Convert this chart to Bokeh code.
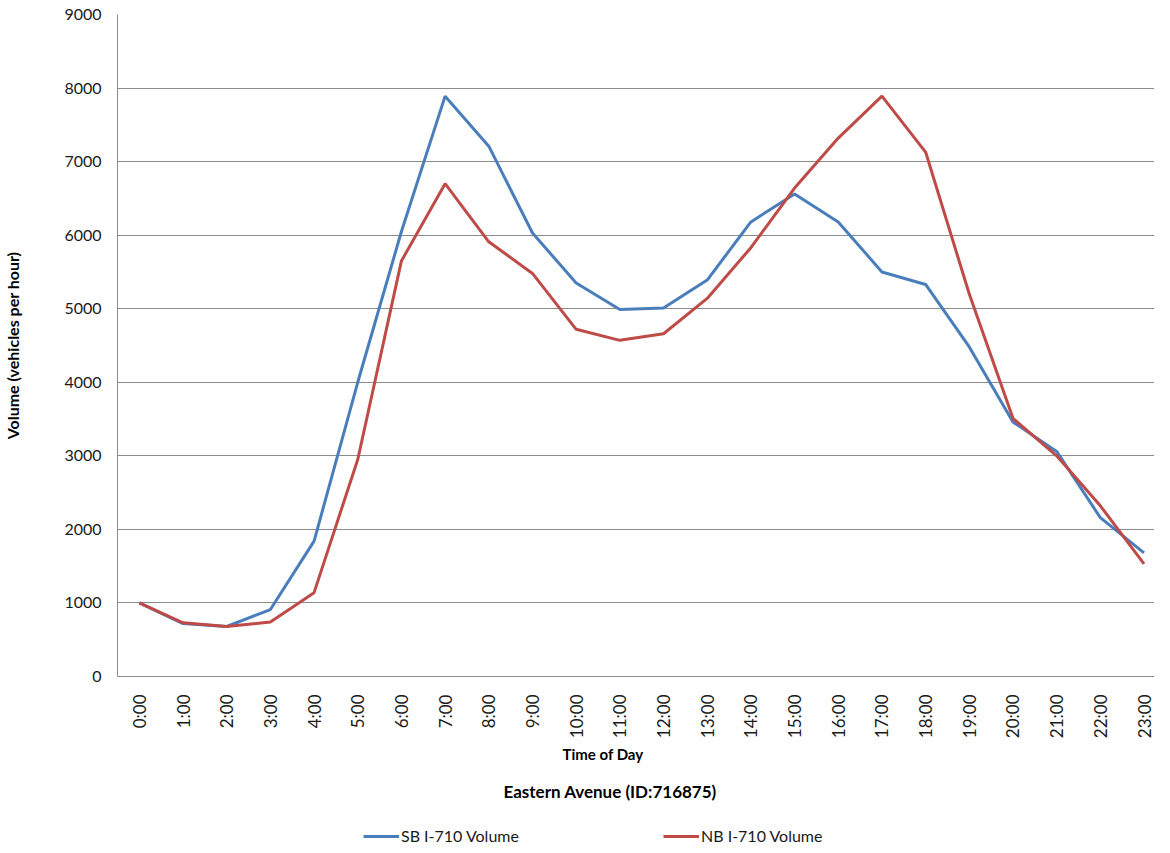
import math
from bokeh.plotting import figure
from bokeh.layouts import column
from bokeh.models import FixedTicker, Range1d, Legend, LegendItem, Title, LinearAxis
from bokeh.embed import file_html
from bokeh.resources import INLINE

hours = list(range(24))
hour_labels = [f"{h}:00" for h in hours]
sb_volume = [1000, 720, 680, 910, 1840, 4000, 6050, 7890, 7210, 6030, 5350, 4990,
             5010, 5390, 6180, 6560, 6180, 5500, 5330, 4480, 3460, 3060, 2160, 1680]
nb_volume = [1000, 730, 680, 740, 1140, 2950, 5650, 6700, 5910, 5480, 4720, 4570,
             4660, 5140, 5830, 6640, 7320, 7890, 7130, 5200, 3510, 3000, 2320, 1530]
y_ticks = list(range(0, 9001, 1000))
series_names = ["SB I-710 Volume", "NB I-710 Volume"]
series_colors = ["#4A7EBB", "#BE4B48"]
series_values = [sb_volume, nb_volume]

FONT = "Lato"
GRID = "#8c8c8c"

p = figure(width=1154, height=817,
           x_range=Range1d(-0.5, 23.24), y_range=Range1d(0, 9000),
           output_backend="svg", toolbar_location=None,
           min_border_left=114, min_border_right=0,
           min_border_top=14, min_border_bottom=141)
p.outline_line_color = None
p.background_fill_color = "white"
p.border_fill_color = "white"

p.xgrid.visible = False
p.ygrid.ticker = FixedTicker(ticks=y_ticks)
p.ygrid.grid_line_color = GRID
p.ygrid.grid_line_width = 1

# y axis
p.yaxis.ticker = FixedTicker(ticks=y_ticks)
p.yaxis.major_tick_line_color = None
p.yaxis.minor_tick_line_color = None
p.yaxis.axis_line_color = GRID
p.yaxis.major_label_standoff = 10
p.yaxis.major_label_text_font = FONT
p.yaxis.major_label_text_font_size = "16px"
p.yaxis.major_label_text_color = "#1a1a1a"
p.yaxis.axis_label = "Volume (vehicles per hour)"
p.yaxis.axis_label_text_font = FONT
p.yaxis.axis_label_text_font_size = "16px"
p.yaxis.axis_label_text_font_style = "bold"
p.yaxis.axis_label_text_color = "#000000"
p.yaxis.axis_label_standoff = 39

# x axis
p.xaxis.ticker = FixedTicker(ticks=hours)
p.xaxis.major_label_overrides = {h: lbl for h, lbl in zip(hours, hour_labels)}
p.xaxis.major_label_orientation = math.pi / 2
p.xaxis.major_tick_line_color = None
p.xaxis.minor_tick_line_color = None
p.xaxis.axis_line_color = GRID
p.xaxis.major_label_standoff = 12
p.xaxis.major_label_text_font = FONT
p.xaxis.major_label_text_font_size = "17px"
p.xaxis.major_label_text_color = "#1a1a1a"

for vals, color in zip(series_values, series_colors):
    p.line(hours, vals, line_color=color, line_width=3)

t1 = Title(text="Time of Day", align="left", offset=445,
           text_font=FONT, text_font_size="15px", text_font_style="bold",
           text_color="#000000", standoff=3)
t2 = Title(text="Eastern Avenue (ID:716875)", align="left", offset=386,
           text_font=FONT, text_font_size="17px", text_font_style="bold",
           text_color="#000000", standoff=28)
p.add_layout(t1, "below")
p.add_layout(t2, "below")

# legend strip below the chart (its lines lie outside its 0..1 view, only the key shows)
lg = figure(width=1154, height=28, x_range=Range1d(0, 1), y_range=Range1d(0, 1),
            output_backend="svg", toolbar_location=None,
            x_axis_location=None, y_axis_location=None,
            min_border_left=114, min_border_right=0,
            min_border_top=0, min_border_bottom=0)
lg.outline_line_color = None
lg.grid.visible = False
lg.background_fill_color = "white"
lg.border_fill_color = "white"
# empty spacer axis so the strip's left border matches the chart's
spacer = LinearAxis(ticker=FixedTicker(ticks=[]), major_tick_out=114, major_tick_in=0,
                    axis_line_color=None, major_tick_line_color=None,
                    minor_tick_line_color=None, major_label_standoff=0)
lg.add_layout(spacer, "left")
lg_items = []
for name, vals, color in zip(series_names, series_values, series_colors):
    r = lg.line(hours, vals, line_color=color, line_width=3)
    lg_items.append(LegendItem(label=name, renderers=[r]))
legend = Legend(items=lg_items, orientation="horizontal", location=(246, 0),
                glyph_width=36, glyph_height=16, label_standoff=2,
                label_width=262, spacing=0, padding=0, margin=0,
                border_line_color=None, background_fill_alpha=0,
                label_text_font=FONT, label_text_font_size="16px",
                label_text_color="#1a1a1a")
lg.add_layout(legend, "center")

layout = column(p, lg, spacing=0)
open("out.html", "w").write(file_html(layout, INLINE))
